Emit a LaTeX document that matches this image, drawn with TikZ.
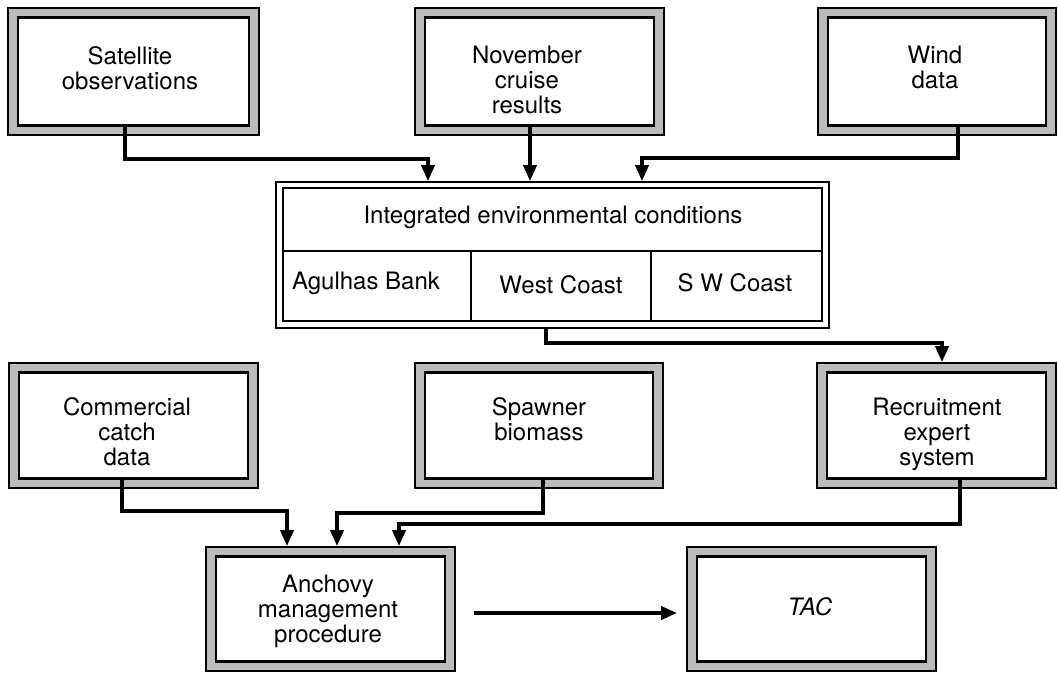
\documentclass[tikz,border=0pt]{standalone}
\usepackage{fontspec}
\setmainfont{TeX Gyre Heros}
\usetikzlibrary{arrows.meta,calc}
\definecolor{boxgrey}{RGB}{187,187,187}
\begin{document}
\begin{tikzpicture}[x=0.75pt,y=-0.75pt,
  frame/.style={draw=black,line width=1.5pt,fill=boxgrey,inner sep=0pt},
  wpx/.style={minimum width=#1*0.75pt},
  hpx/.style={minimum height=#1*0.75pt},
  innerbox/.style={draw=black,fill=white,line width=2.2pt},
  intbox/.style={draw=black,fill=white,line width=1.5pt,inner sep=0pt},
  divider/.style={draw=black,line width=2.2pt},
  lbl/.style={inner sep=0pt,align=center,font=\fontsize{18}{18.8}\selectfont},
  conn/.style={draw=black,line width=2.3pt,-{Triangle[width=10pt,length=12pt]}}
]
\useasboundingbox (0,0) rectangle (1058,672);

% top row
\node[frame,wpx=251,hpx=127] (sat) at (133.5,71.5) {};
\node[frame,wpx=249,hpx=127] (nov) at (539.5,71.5) {};
\node[frame,wpx=238,hpx=127] (wind) at (937,71.5) {};
% middle row
\node[frame,wpx=249,hpx=125] (com) at (133.5,425.5) {};
\node[frame,wpx=248,hpx=125] (spa) at (539,425.5) {};
\node[frame,wpx=239,hpx=125] (rec) at (936.5,425.5) {};
% bottom row
\node[frame,wpx=249,hpx=124] (anc) at (330.5,609) {};
\node[frame,wpx=249,hpx=124] (tac) at (811.5,609) {};

\foreach \b in {sat,nov,wind,com,spa,rec,anc,tac}{
  \draw[innerbox] ($(\b.north west)+(11,10.5)$) rectangle ($(\b.south east)+(-11,-10.5)$);
}

% integrated box
\node[intbox,wpx=553,hpx=146] (int) at (552.5,255) {};
\draw[intbox] ($(int.north west)+(8,7)$) rectangle ($(int.south east)+(-8,-8)$);
\draw[divider] ($(int.west)+(8,-4)$) -- ($(int.east)+(-8,-4)$);
\draw[divider] ($(int.south west)+(196,-8)$) -- ($(int.west)+(196,-5)$);
\draw[divider] ($(int.south west)+(376,-8)$) -- ($(int.west)+(376,-5)$);

% texts
\node[lbl,anchor=north] (satT) at ($(sat.north)+(-3.5,39)$) {Satellite\\observations};
\node[lbl,anchor=north] (novT) at ($(nov.north)+(-12.5,39)$) {November\\cruise\\results};
\node[lbl,anchor=north] (windT) at ($(wind.north)+(-2,39)$) {Wind\\data};
\node[lbl,anchor=north] (comT) at ($(com.north)+(-6.5,35)$) {Commercial\\catch\\data};
\node[lbl,anchor=north] (spaT) at ($(spa.north)+(0,35)$) {Spawner\\biomass};
\node[lbl,anchor=north] (recT) at ($(rec.north)+(0.5,36)$) {Recruitment\\expert\\system};
\node[lbl,anchor=north] (ancT) at ($(anc.north)+(-2.5,29)$) {Anchovy\\management\\procedure};
\node[lbl,anchor=base] (tacT) at ($(tac.center)+(-1.5,6)$) {\itshape TAC};

\node[lbl,anchor=base] (intT) at (553,223) {Integrated environmental conditions};
\node[lbl,anchor=base] (agT) at (366,289) {Agulhas Bank};
\node[lbl,anchor=base] (wcT) at (561,293) {West Coast};
\node[lbl,anchor=base] (swT) at (735,291) {S W Coast};

% connectors
\draw[conn] ($(sat.south)+(-8.5,-11)$) -- ++(0,34) -| ($(int.north)+(-124.5,0)$);
\draw[conn] ($(nov.south)+(-9.5,-11)$) -- ($(int.north)+(-22.5,0)$);
\draw[conn] ($(wind.south)+(21,-11)$) -- ++(0,33) -| ($(int.north)+(89.5,0)$);
\draw[conn] ($(int.south)+(-6.5,0)$) -- ++(0,14) -| ($(rec.north)+(5.5,0)$);
\draw[conn] ($(com.south)+(-11.5,-12)$) -- ++(0,34) -| ($(anc.north)+(-43.5,0)$);
\draw[conn] ($(spa.south)+(4,-12)$) -- ++(0,36) -| ($(anc.north)+(6.5,0)$);
\draw[conn] ($(rec.south)+(23.5,-12)$) -- ++(0,47) -| ($(anc.north)+(68.5,0)$);
\draw[conn] ($(anc.east)+(18,4)$) -- ($(tac.west)+(-9,4)$);
\end{tikzpicture}
\end{document}
